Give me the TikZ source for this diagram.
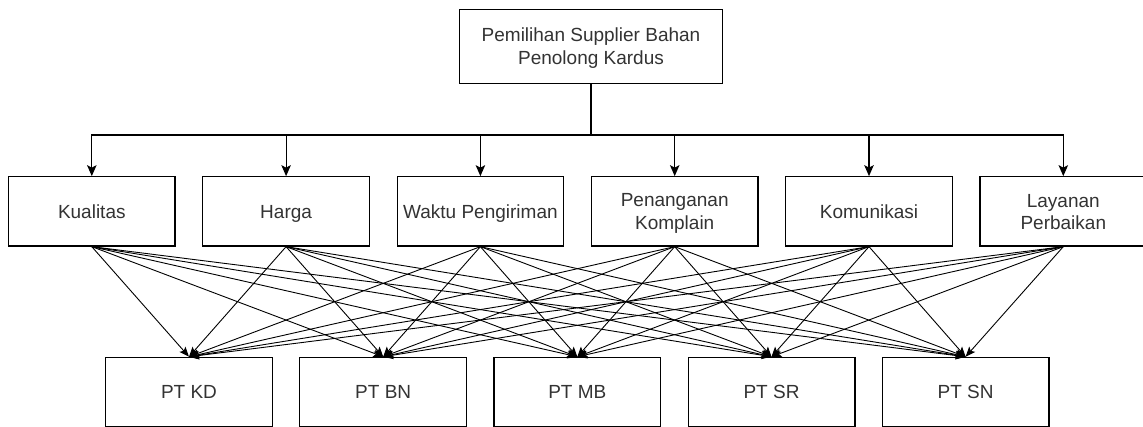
\documentclass[tikz,border=0pt]{standalone}
\usepackage{fontspec}
\setmainfont{Liberation Sans}
\usetikzlibrary{arrows.meta}
\newcommand\txs{\rule[-3.7pt]{0pt}{21pt}}
\begin{document}
\begin{tikzpicture}[x=1pt,y=-1pt,
  box/.style={draw=black, line width=1.2pt, fill=white, inner sep=0pt, align=center,
    text=black!80, font=\fontsize{19}{21}\selectfont},
  topbox/.style={box, minimum width=263.6pt, minimum height=74pt},
  midbox/.style={box, minimum width=166.5pt, minimum height=69.3pt},
  botbox/.style={box, minimum width=166.8pt, minimum height=69.3pt},
  treeline/.style={line width=1.2pt, draw=black},
  treetip/.style={treeline, -{Stealth[length=11pt,width=9.5pt,inset=2.5pt]}},
  fanline/.style={line width=0.9pt, draw=black, -{Stealth[length=10pt,width=8pt,inset=2.2pt]}},
]
\useasboundingbox (0,0) rectangle (1143,427);

\node[topbox] (top) at (591,46.3) {\txs Pemilihan Supplier Bahan\\\txs Penolong Kardus};

\node[midbox] (m1) at (91.8,211.4) {\txs Kualitas};
\node[midbox] (m2) at (286.1,211.4) {\txs Harga};
\node[midbox] (m3) at (480.4,211.4) {\txs Waktu Pengiriman};
\node[midbox] (m4) at (674.7,211.4) {\txs Penanganan\\\txs Komplain};
\node[midbox] (m5) at (869.0,211.4) {\txs Komunikasi};
\node[midbox] (m6) at (1063.3,211.4) {\txs Layanan\\\txs Perbaikan};

\node[botbox] (b1) at (189.0,392) {\txs PT KD};
\node[botbox] (b2) at (383.2,392) {\txs PT BN};
\node[botbox] (b3) at (577.3,392) {\txs PT MB};
\node[botbox] (b4) at (771.5,392) {\txs PT SR};
\node[botbox] (b5) at (965.6,392) {\txs PT SN};

\coordinate (bus) at (591,135);
\draw[treeline] (top.south) -- (bus);
\foreach \m in {m1,m2,m3,m4,m5,m6}
  \draw[treetip] (bus) -| (\m.north);

\foreach \m in {m1,m2,m3,m4,m5,m6}
  \foreach \b in {b1,b2,b3,b4,b5}
    \draw[fanline] (\m.south) -- (\b.north);
\end{tikzpicture}
\end{document}
